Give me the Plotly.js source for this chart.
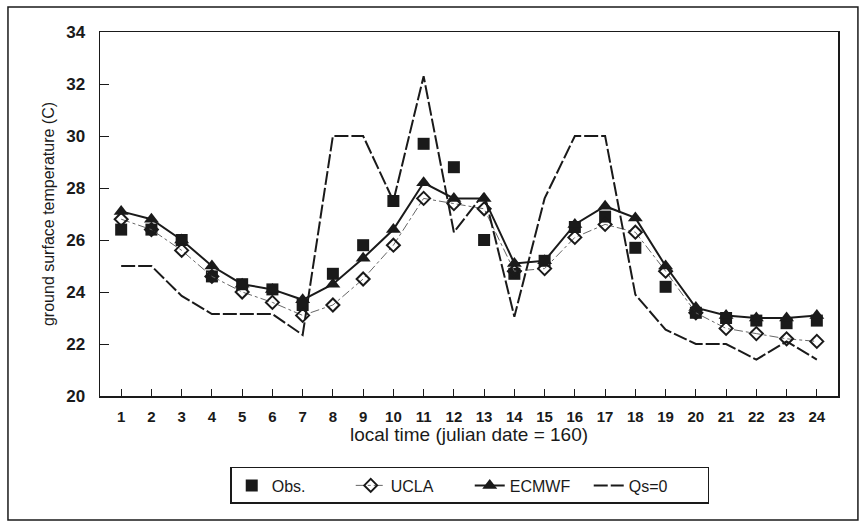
<!DOCTYPE html>
<html><head><meta charset="utf-8">
<script src="https://cdn.plot.ly/plotly-3.0.1.min.js"></script>
<style>html,body{margin:0;padding:0;background:#fff}#chart{width:867px;height:526px}</style>
</head><body><div id="chart"></div>
<script>
const hours = [1,2,3,4,5,6,7,8,9,10,11,12,13,14,15,16,17,18,19,20,21,22,23,24];
const obs   = [26.4,26.4,26.0,24.6,24.3,24.1,23.5,24.7,25.8,27.5,29.7,28.8,26.0,24.7,25.2,26.5,26.9,25.7,24.2,23.2,23.0,22.9,22.8,22.9];
const ucla  = [26.8,26.4,25.6,24.6,24.0,23.6,23.1,23.5,24.5,25.8,27.6,27.4,27.2,24.8,24.9,26.1,26.6,26.3,24.8,23.2,22.6,22.4,22.2,22.1];
const ecmwf = [27.1,26.8,26.0,25.0,24.3,24.1,23.7,24.3,25.3,26.4,28.2,27.6,27.6,25.1,25.2,26.6,27.3,26.85,25.0,23.4,23.1,23.0,23.0,23.1];
const qs0   = [25.0,25.0,23.85,23.15,23.15,23.15,22.35,30.0,30.0,27.5,32.3,26.3,27.8,23.05,27.6,30.0,30.0,23.9,22.55,22.0,22.0,21.4,22.1,21.4];
const seriesNames = ['Obs.','UCLA','ECMWF','Qs=0'];
const yTicks = [20,22,24,26,28,30,32,34];

const ink = '#1a1a1a';
const traces = [
  {x: hours, y: qs0, name: seriesNames[3], mode: 'lines', line: {color: ink, width: 2, dash: '14px,3px'}},
  {x: hours, y: ucla, name: seriesNames[1], mode: 'lines+markers', line: {color: '#666', width: 1, dash: 'dashdot'},
   marker: {symbol: 'diamond-open', size: 10, color: ink, line: {width: 2, color: ink}}},
  {x: hours, y: ecmwf, name: seriesNames[2], mode: 'lines+markers', line: {color: ink, width: 2},
   marker: {symbol: 'triangle-up', size: 13, color: ink}},
  {x: hours, y: obs, name: seriesNames[0], mode: 'markers',
   marker: {symbol: 'square', size: 12, color: ink}}
];
const order = [3,1,2,0];
const data = order.map(i => traces[i]);

const layout = {
  width: 867, height: 526,
  margin: {l: 100, r: 29, t: 32, b: 130},
  paper_bgcolor: '#fff', plot_bgcolor: '#fff',
  font: {family: 'Liberation Sans, Arial, sans-serif', color: ink},
  showlegend: true,
  legend: {orientation: 'h', x: 0.501, xanchor: 'center', y: -0.195, yanchor: 'top',
    bordercolor: ink, borderwidth: 1.5, font: {size: 16, color: ink},
    traceorder: 'normal', entrywidth: 74, itemwidth: 30},
  xaxis: {range: [0.3, 24.7], tickmode: 'array', tickvals: hours, ticktext: hours.map(String),
    showgrid: false, zeroline: false, showline: true, linecolor: ink, linewidth: 1.5, mirror: true,
    ticks: 'inside', ticklen: 7, tickcolor: ink, ticklabelstandoff: 6,
    tickfont: {size: 15, color: ink, weight: 'bold'},
    title: {text: 'local time (julian date = 160)', font: {size: 19, color: ink}, standoff: 3}},
  yaxis: {range: [20, 34], tickmode: 'array', tickvals: yTicks, ticktext: yTicks.map(String),
    showgrid: false, zeroline: false, showline: true, linecolor: ink, linewidth: 1.5, mirror: true,
    ticks: 'inside', ticklen: 9, tickcolor: ink, ticklabelstandoff: 10,
    tickfont: {size: 17, color: ink, weight: 'bold'},
    title: {text: 'ground surface temperature (C)', font: {size: 16, color: ink}, standoff: 7}},
  shapes: [{type: 'rect', xref: 'paper', yref: 'paper', x0: -0.1247, x1: 1.027, y0: -0.3407, y1: 1.0687,
    line: {color: ink, width: 1.5}, fillcolor: 'rgba(0,0,0,0)'}]
};
Plotly.newPlot('chart', data, layout, {displayModeBar: false, staticPlot: true});
</script></body></html>
